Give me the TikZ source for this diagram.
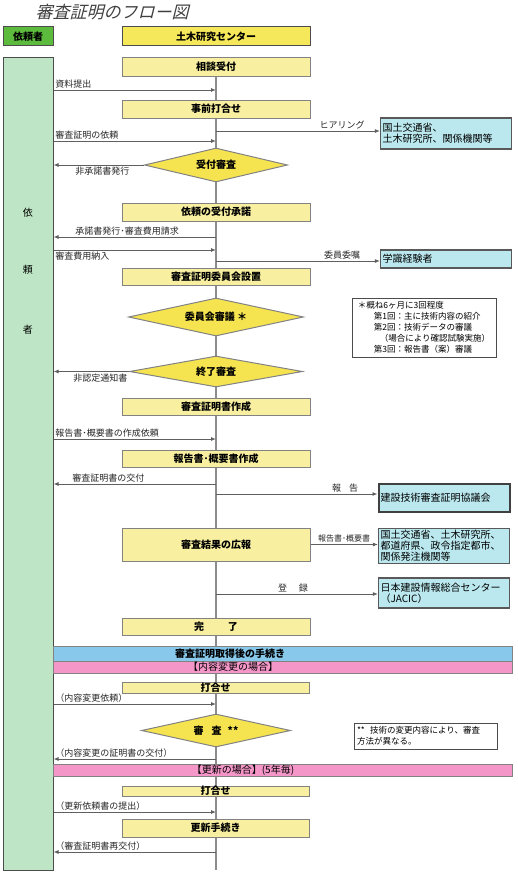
\documentclass[tikz,border=0pt]{standalone}
\usepackage{fontspec}
\setmainfont{Noto Sans CJK JP}
\newfontfamily\titlefont[FakeSlant=0.25]{Noto Sans CJK JP}
\usepackage{xcolor}
\definecolor{clientgreen}{RGB}{92,186,60}
\definecolor{colgreen}{RGB}{190,230,198}
\definecolor{headyellow}{RGB}{245,232,90}
\definecolor{boxyellow}{RGB}{248,240,160}
\definecolor{diayellow}{RGB}{245,228,80}
\definecolor{orgcyan}{RGB}{186,232,238}
\definecolor{barblue}{RGB}{135,200,235}
\definecolor{barpink}{RGB}{245,150,200}
\definecolor{edgegray}{RGB}{130,130,130}
\definecolor{linegray}{RGB}{95,95,95}
\usepackage{tikz}
\usetikzlibrary{shapes.geometric,arrows.meta,positioning,backgrounds,calc}

\begin{document}
\begin{tikzpicture}[
  x=1pt, y=-1pt,
  headbox/.style={draw=black!70, line width=1pt, minimum height=19pt, inner sep=0pt, font=\fontsize{10}{12}\selectfont\bfseries},
  stepbox/.style={draw=edgegray, fill=boxyellow, line width=1pt, minimum width=188pt, inner sep=0pt, font=\fontsize{10}{12}\selectfont\bfseries},
  decision/.style={diamond, aspect=5, draw=edgegray, fill=diayellow, line width=1pt, inner sep=0pt, font=\fontsize{10}{12}\selectfont\bfseries},
  bar/.style={draw=edgegray, line width=1pt, minimum width=459pt, inner sep=0pt},
  bartext/.style={font=\fontsize{10}{12}\selectfont, inner sep=0pt},
  org/.style={draw=black!65, fill=orgcyan, line width=1.2pt, align=left, inner sep=2pt, text width=127pt, font=\fontsize{10}{11}\selectfont},
  note/.style={draw=black!70, fill=white, line width=0.8pt, align=left, inner sep=2.5pt, font=\fontsize{8.5}{11}\selectfont},
  lbl/.style={font=\fontsize{9}{10}\selectfont, inner sep=1.5pt, text=black!85},
  arrow/.style={-{Latex[length=5pt,width=4pt]}, line width=0.9pt, draw=linegray},
  flow/.style={line width=1.2pt, draw=black!45}
]
\useasboundingbox (0,0) rectangle (517,875);

% title and headers
\node[anchor=west, font=\titlefont\fontsize{17}{20}\selectfont, text=black!75] (title) at (32,12) {審査証明のフロー図};
\node[headbox, fill=clientgreen, minimum width=50pt] (hclient) at (28,36.5) {依頼者};
\node[headbox, fill=headyellow, minimum width=188pt] (hcenter) at (216,36.5) {土木研究センター};

% client column
\node[draw=black!70, fill=colgreen, line width=1pt, minimum width=50pt, minimum height=812pt] (client) at (28,464) {};
\node[font=\fontsize{10}{12}\selectfont] (col1) at (28,213) {依};
\node[font=\fontsize{10}{12}\selectfont] (col2) at (28,270) {頼};
\node[font=\fontsize{10}{12}\selectfont] (col3) at (28,330) {者};

% steps
\node[stepbox, minimum height=18pt] (soudan) at (216,67) {相談受付};
\node[stepbox, minimum height=18pt] (jizen) at (216,109) {事前打合せ};
\node[decision, minimum width=143pt, minimum height=34pt] (uketsuke) at (216,165) {受付審査};
\node[stepbox, minimum height=18pt] (shoudaku) at (216,212) {依頼の受付承諾};
\node[stepbox, minimum height=17pt] (setchi) at (216,276.5) {審査証明委員会設置};
\node[decision, minimum width=175pt, minimum height=38pt] (shingi) at (216,317) {委員会審議 ＊};
\node[decision, minimum width=173pt, minimum height=31pt] (shuryo) at (216,371.5) {終了審査};
\node[stepbox, minimum height=17pt] (sakusei) at (216,406.5) {審査証明書作成};
\node[stepbox, minimum height=17pt] (gaiyo) at (216,458.5) {報告書･概要書作成};
\node[stepbox, minimum height=33pt] (kouhou) at (216,544.5) {審査結果の広報};
\node[stepbox, minimum height=17pt] (kanryo) at (216,626.5) {完\hspace{2.4em}了};

% after certification
\node[bar, fill=barblue, minimum height=15pt] (after) at (282.5,653.5) {};
\node[bartext, font=\fontsize{10}{12}\selectfont\bfseries] (aftertext) at (230,653.5) {審査証明取得後の手続き};
\node[bar, fill=barpink, minimum height=12pt] (change) at (282.5,667) {};
\node[bartext] (changetext) at (233,667) {【内容変更の場合】};
\node[stepbox, minimum height=11pt, minimum width=187pt] (uchi1) at (215.5,687.5) {打合せ};
\node[decision, minimum width=149pt, minimum height=33pt] (shinsa) at (216,730.5) {審\hspace{0.8em}査\hspace{0.6em}**};
\node[bar, fill=barpink, minimum height=12pt] (renew) at (282.5,770) {};
\node[bartext] (renewtext) at (243,770) {【更新の場合】(5年毎)};
\node[stepbox, minimum height=10pt, minimum width=187pt] (uchi2) at (215.5,791) {打合せ};
\node[stepbox, minimum height=18pt, minimum width=187pt] (koushin) at (215.5,828) {更新手続き};

% outside bodies
\node[org, minimum height=31pt] (kokudo1) at (446,133.5) {国土交通省、\\土木研究所、関係機関等};
\node[org, minimum height=18pt] (gakushiki) at (446,259) {学識経験者};
\node[org, minimum height=28pt, line width=2pt, draw=black!75] (kyogikai) at (444,498) {建設技術審査証明協議会};
\node[org, minimum height=34pt] (kokudo2) at (444,546) {国土交通省、土木研究所、\\都道府県、政令指定都市、\\関係発注機関等};
\node[org, minimum height=30pt] (jacic) at (444,593) {日本建設情報総合センター\\（JACIC）};

% notes
\node[note, minimum width=144pt, minimum height=59pt] (note1) at (424,327.5) {＊概ね6ヶ月に3回程度\\
\hspace{16pt}第1回：主に技術内容の紹介\\
\hspace{16pt}第2回：技術データの審議\\
\hspace{22pt}（場合により確認試験実施）\\
\hspace{16pt}第3回：報告書（案）審議};
\node[note, minimum width=143pt, minimum height=26pt, text width=137pt] (note2) at (425.5,736) {**\hspace{0.6em}技術の変更内容により、審査\\方法が異なる。};

% points on the centre line
\coordinate (shiryo) at (216,90);
\coordinate (hear) at (216,131);
\coordinate (irai) at (216,141);
\coordinate (seikyu) at (216,237);
\coordinate (nounyu) at (216,250);
\coordinate (ishoku) at (216,261);
\coordinate (iraisho) at (216,439);
\coordinate (koufu) at (216,484);
\coordinate (houkoku) at (216,494);
\coordinate (touroku) at (216,594);
\coordinate (henkou) at (216,704);
\coordinate (henkoufu) at (216,759);
\coordinate (teishutsu) at (216,812);
\coordinate (saikoufu) at (216,852);
\coordinate (bottom) at (216,870);

\begin{scope}[on background layer]
\draw[flow] (soudan.south) -- (bottom);
\end{scope}

% client -> centre
\draw[arrow] (client.east |- shiryo) -- node[lbl, pos=0, anchor=south west] {資料提出} (shiryo);
\draw[arrow] (client.east |- irai) -- node[lbl, pos=0, anchor=south west] {審査証明の依頼} (irai);
\draw[arrow] (client.east |- nounyu) -- node[lbl, pos=0, anchor=north west] {審査費用納入} (nounyu);
\draw[arrow] (client.east |- iraisho) -- node[lbl, pos=0, anchor=south west] {報告書･概要書の作成依頼} (iraisho);
\draw[arrow] (client.east |- henkou) -- node[lbl, pos=0, anchor=south west] {（内容変更依頼）} (henkou);
\draw[arrow] (client.east |- teishutsu) -- node[lbl, pos=0, anchor=south west] {（更新依頼書の提出）} (teishutsu);

% centre -> client
\draw[arrow] (uketsuke.west) -- node[lbl, pos=1, anchor=north west, xshift=20pt] {非承諾書発行} (client.east |- uketsuke.west);
\draw[arrow] (seikyu) -- node[lbl, pos=1, anchor=south west, xshift=20pt] {承諾書発行･審査費用請求} (client.east |- seikyu);
\draw[arrow] (shuryo.west) -- node[lbl, pos=1, anchor=north west, xshift=18pt] {非認定通知書} (client.east |- shuryo.west);
\draw[arrow] (koufu) -- node[lbl, pos=1, anchor=south west, xshift=17pt] {審査証明書の交付} (client.east |- koufu);
\draw[arrow] (henkoufu) -- node[lbl, pos=1, anchor=south west] {（内容変更の証明書の交付）} (client.east |- henkoufu);
\draw[arrow] (saikoufu) -- node[lbl, pos=1, anchor=south west] {（審査証明書再交付）} (client.east |- saikoufu);

% centre -> outside bodies
\draw[arrow] (hear) -- node[lbl, pos=0.77, above] {ヒアリング} (kokudo1.west |- hear);
\draw[arrow] (ishoku) -- node[lbl, pos=0.77, above] {委員委嘱} (gakushiki.west |- ishoku);
\draw[arrow] (houkoku) -- node[lbl, pos=0.8, above] {報\hspace{0.9em}告} (kyogikai.west |- houkoku);
\draw[arrow] (kouhou.east) -- node[lbl, above, font=\fontsize{8}{9}\selectfont] {報告書･概要書} (kokudo2.west |- kouhou.east);
\draw[arrow] (touroku) -- node[lbl, pos=0.475, above] {登\hspace{1.3em}録} (jacic.west |- touroku);
\end{tikzpicture}
\end{document}
